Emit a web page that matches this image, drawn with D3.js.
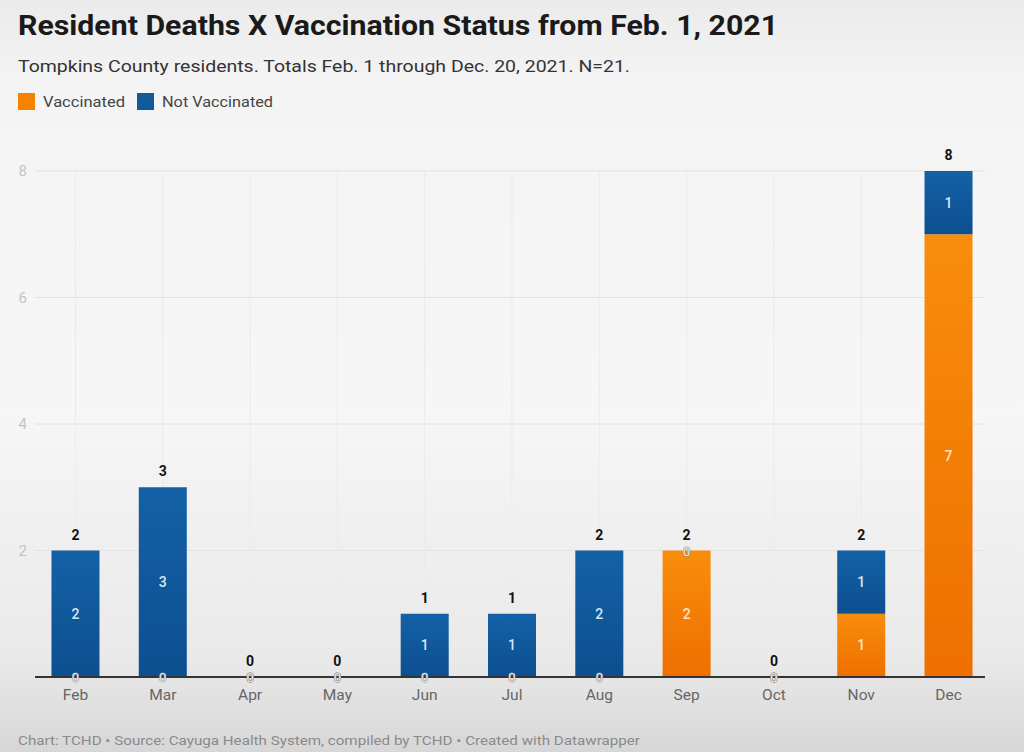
<!DOCTYPE html>
<html><head><meta charset="utf-8">
<script src="https://cdn.jsdelivr.net/npm/d3@7"></script>
<style>html,body{margin:0;padding:0;overflow:hidden;}svg{display:block;}</style>
</head><body>
<svg id="chart" width="1024" height="752"></svg>
<script>
const months = ["Feb","Mar","Apr","May","Jun","Jul","Aug","Sep","Oct","Nov","Dec"];
const vaccinated = [0,0,0,0,0,0,0,2,0,1,7];
const notVaccinated = [2,3,0,0,1,1,2,0,0,1,1];
const yTicks = [2,4,6,8];
const seriesNames = ["Vaccinated","Not Vaccinated"];
const colors = {"Vaccinated":"#f58300","Not Vaccinated":"#11599d"};

const svg = d3.select("#chart");
const W = 1024, H = 752;
const defs = svg.append("defs");
const bg = defs.append("linearGradient").attr("id","bg").attr("x1",0).attr("y1",0).attr("x2",0).attr("y2",1);
bg.append("stop").attr("offset","0%").attr("stop-color","#ebebeb");
bg.append("stop").attr("offset","12%").attr("stop-color","#f4f4f4");
bg.append("stop").attr("offset","55%").attr("stop-color","#f6f6f6");
bg.append("stop").attr("offset","88%").attr("stop-color","#e9e9e9");
bg.append("stop").attr("offset","100%").attr("stop-color","#d6d6d6");
svg.append("rect").attr("width",W).attr("height",H).attr("fill","url(#bg)");

const gO = defs.append("linearGradient").attr("id","gO").attr("x1",0).attr("y1",0).attr("x2",0).attr("y2",1);
gO.append("stop").attr("offset","0%").attr("stop-color","#f88d0c");
gO.append("stop").attr("offset","100%").attr("stop-color","#ee6f00");
const gB = defs.append("linearGradient").attr("id","gB").attr("x1",0).attr("y1",0).attr("x2",0).attr("y2",1);
gB.append("stop").attr("offset","0%").attr("stop-color","#1461a6");
gB.append("stop").attr("offset","100%").attr("stop-color","#0c4f90");
const fills = {"Vaccinated":"url(#gO)","Not Vaccinated":"url(#gB)"};

const font = "Roboto, 'Liberation Sans', sans-serif";

// Title
svg.append("text").attr("x",18).attr("y",35).attr("font-family",font).attr("font-weight",700)
  .attr("font-size",27).attr("fill","#1a1a1a").attr("textLength",760).attr("lengthAdjust","spacingAndGlyphs")
  .text("Resident Deaths X Vaccination Status from Feb. 1, 2021");
svg.append("text").attr("x",18).attr("y",72).attr("font-family",font)
  .attr("font-size",16).attr("fill","#333").attr("textLength",612).attr("lengthAdjust","spacingAndGlyphs")
  .text("Tompkins County residents. Totals Feb. 1 through Dec. 20, 2021. N=21.");

// Legend
const legX = [18, 137];
const legLen = [82, 111];
seriesNames.forEach((s,i)=>{
  svg.append("rect").attr("x",legX[i]).attr("y",93).attr("width",17).attr("height",17).attr("fill",colors[s]);
  svg.append("text").attr("x",legX[i]+25).attr("y",107).attr("font-family",font).attr("font-size",15)
    .attr("fill","#444").attr("textLength",legLen[i]).attr("lengthAdjust","spacingAndGlyphs").text(s);
});

// Scales
const x = d3.scaleBand().domain(months).range([34,990]).paddingInner(0.45).paddingOuter(0.2);
const y = d3.scaleLinear().domain([0,8]).range([677,171]);

// Grid
const grid = svg.append("g");
grid.selectAll("line.h").data(yTicks).join("line")
  .attr("x1",35).attr("x2",985).attr("y1",d=>y(d)).attr("y2",d=>y(d))
  .attr("stroke","#e2e2e2").attr("stroke-width",1);
grid.selectAll("line.v").data(months).join("line")
  .attr("x1",d=>x(d)+x.bandwidth()/2).attr("x2",d=>x(d)+x.bandwidth()/2)
  .attr("y1",y(8)).attr("y2",y(0)).attr("stroke","#ebebeb").attr("stroke-width",1);

// Y axis labels
const yAxis = d3.axisLeft(y).tickValues(yTicks).tickSize(0).tickPadding(0);
const ya = svg.append("g").attr("transform","translate(27,0)").call(yAxis);
ya.select(".domain").remove();
ya.selectAll("text").attr("font-family",font).attr("font-size",15).attr("fill","#c4c4c4");

// Stack
const rows = months.map((m,i)=>({month:m,"Vaccinated":vaccinated[i],"Not Vaccinated":notVaccinated[i]}));
const stack = d3.stack().keys(seriesNames)(rows);

const bars = svg.append("g");
stack.forEach(layer=>{
  bars.selectAll(null).data(layer).join("rect")
    .attr("x",d=>x(d.data.month)).attr("width",x.bandwidth())
    .attr("y",d=>y(d[1])).attr("height",d=>y(d[0])-y(d[1]))
    .attr("fill",fills[layer.key]);
});

// Baseline
svg.append("line").attr("x1",35).attr("x2",985).attr("y1",y(0)).attr("y2",y(0))
  .attr("stroke","#333").attr("stroke-width",2);

// X axis labels
const xAxis = d3.axisBottom(x).tickSize(0).tickPadding(0);
const xa = svg.append("g").attr("transform",`translate(0,${y(0)+12})`).call(xAxis);
xa.select(".domain").remove();
xa.selectAll("text").attr("font-family",font).attr("font-size",15.5).attr("fill","#666");

// Segment labels
const labels = svg.append("g").attr("font-family",font).attr("text-anchor","middle");
stack.forEach(layer=>{
  layer.forEach(d=>{
    const v = d[1]-d[0];
    const cx = x(d.data.month)+x.bandwidth()/2;
    if (v>0){
      labels.append("text").attr("x",cx).attr("y",(y(d[0])+y(d[1]))/2+5)
        .attr("font-size",14).attr("font-weight",500)
        .attr("fill", layer.key==="Vaccinated" ? "#fde3c4" : "#d5e6f5").text(v);
    } else {
      labels.append("text").attr("x",cx).attr("y",y(d[1])+5)
        .attr("font-size",13).attr("font-weight",400)
        .attr("fill","#e8e8e8").attr("stroke","#888").attr("stroke-width",1)
        .attr("paint-order","stroke").text(v);
    }
  });
});

// Totals
rows.forEach(r=>{
  const t = r["Vaccinated"]+r["Not Vaccinated"];
  labels.append("text").attr("x",x(r.month)+x.bandwidth()/2).attr("y",y(t)-11)
    .attr("font-size",14).attr("font-weight",700).attr("fill","#111").text(t);
});

// Footer
svg.append("text").attr("x",18).attr("y",745).attr("font-family",font).attr("font-size",12)
  .attr("fill","#8a8a8a").attr("textLength",622).attr("lengthAdjust","spacingAndGlyphs")
  .text("Chart: TCHD \u2022 Source: Cayuga Health System, compiled by TCHD \u2022 Created with Datawrapper");
</script>
</body></html>
